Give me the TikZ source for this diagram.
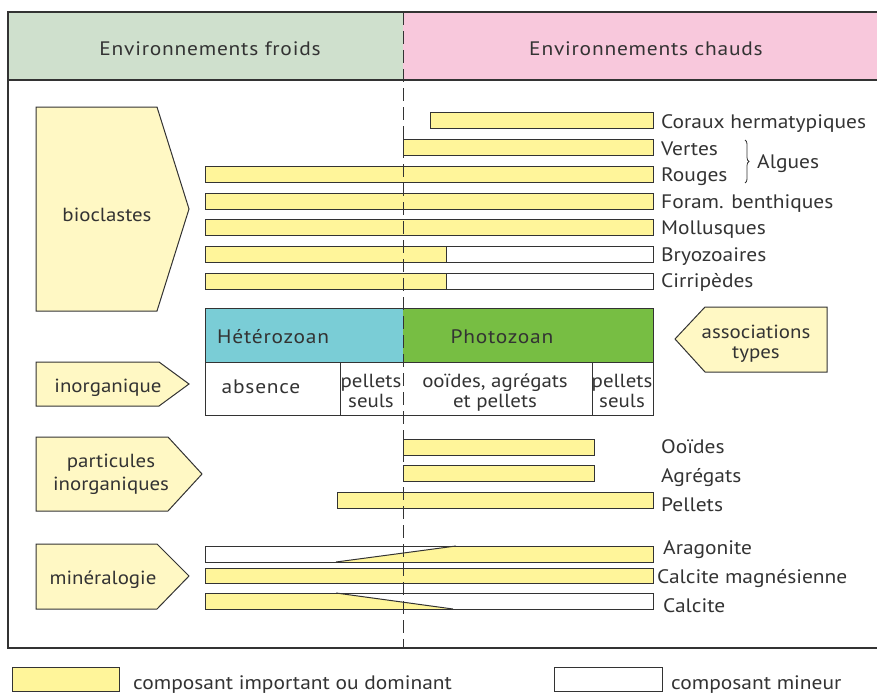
\documentclass[tikz,border=0pt]{standalone}
\usepackage{fontspec}
\setmainfont{PT Sans}[FakeStretch=1.1]
\newfontfamily\trackfont{PT Sans}[FakeStretch=1.1,LetterSpace=4]
\usetikzlibrary{decorations.pathreplacing}
\definecolor{hdrcold}{HTML}{CFE0CD}
\definecolor{hdrwarm}{HTML}{F8C8DC}
\definecolor{yfill}{HTML}{FFF59A}
\definecolor{ybox}{HTML}{FFF8C4}
\definecolor{hetero}{HTML}{7ACDD6}
\definecolor{photo}{HTML}{77BE43}
\definecolor{ink}{HTML}{333333}
\begin{document}
\begin{tikzpicture}[x=1pt,y=-1pt,line join=miter,
  frameline/.style={draw=ink,line width=1.4pt},
  bar/.style={draw=ink,line width=1pt,fill=yfill},
  minbar/.style={draw=ink,line width=1pt,fill=white},
  catbox/.style={draw=ink,line width=1pt,fill=ybox},
  txt/.style={font=\fontsize{19.5}{21}\selectfont,text=ink,inner sep=0pt,anchor=base},
  cattxt/.style={font=\fontsize{19}{23}\selectfont,text=ink,inner sep=0pt,anchor=base},
  trk/.style={font=\trackfont\fontsize{19.5}{20}\selectfont,text=ink,inner sep=0pt,anchor=base},
  lbl/.style={txt,anchor=base west},
  cell/.style={txt,font=\fontsize{19}{20}\selectfont}]
\useasboundingbox (0,0) rectangle (877,693);
% header and frame
\fill[hdrcold] (8,12) rectangle (403,80);
\fill[hdrwarm] (403,12) rectangle (880,80);
\draw[frameline] (880,12) -- (8,12) -- (8,648) -- (880,648);
\draw[frameline] (8,80) -- (880,80);
\node[trk] (froid) at (210,56) {Environnements froids};
\node[trk] (chaud) at (646,56) {Environnements chauds};
% category arrows
\draw[catbox] (36,107) -- (157,107) -- (189,209) -- (157,311) -- (36,311) -- cycle;
\node[cattxt] (bio) at (107,221) {bioclastes};
\draw[catbox] (36,362) -- (159,362) -- (189,384) -- (159,406) -- (36,406) -- cycle;
\node[cattxt] (inorg) at (108,392) {inorganique};
\draw[catbox] (36,437) -- (168,437) -- (202,474) -- (168,511) -- (36,511) -- cycle;
\node[cattxt] (part1) at (111,467) {particules};
\node[cattxt] (part2) at (111,490) {inorganiques};
\draw[catbox] (36,544) -- (157,544) -- (189,576) -- (157,609) -- (36,609) -- cycle;
\node[cattxt] (mine) at (103,584) {minéralogie};
\draw[catbox] (827,307) -- (705,307) -- (675,339) -- (705,372) -- (827,372) -- cycle;
\node[cattxt] (assoc1) at (756,338) {associations};
\node[cattxt] (assoc2) at (756,358) {types};
% bioclast bars
\draw[bar] (430,112) rectangle (653,128);
\node[lbl] (cor) at (661,128) {Coraux hermatypiques};
\draw[bar] (403,139) rectangle (653,155);
\node[lbl] (ver) at (661,155) {Vertes};
\draw[bar] (205,166) rectangle (653,182);
\node[lbl] (rou) at (661,181) {Rouges};
\draw[decorate,decoration={brace,amplitude=4pt},draw=ink,line width=0.8pt] (745,140) -- (745,183);
\node[lbl] (alg) at (757,168) {Algues};
\draw[bar] (205,193) rectangle (653,209);
\node[lbl] (for) at (661,208) {Foram. benthiques};
\draw[bar] (205,219) rectangle (653,235);
\node[lbl] (mol) at (661,234) {Mollusques};
\draw[minbar] (205,246) rectangle (653,262);
\draw[bar] (205,246) rectangle (446,262);
\node[lbl] (bry) at (661,261) {Bryozoaires};
\draw[minbar] (205,273) rectangle (653,289);
\draw[bar] (205,273) rectangle (446,289);
\node[lbl] (cir) at (661,287) {Cirripèdes};
% table
\fill[hetero] (205,308) rectangle (403,362);
\fill[photo] (403,308) rectangle (653,362);
\fill[white] (205,362) rectangle (653,415);
\draw[ink,line width=1pt] (205,308) rectangle (653,415);
\draw[ink,line width=1pt] (205,362) -- (653,362);
\draw[ink,line width=1pt] (340,362) -- (340,415);
\draw[ink,line width=1pt] (592,362) -- (592,415);
\node[trk,anchor=base west] (het) at (217,343) {Hétérozoan};
\node[trk] (pho) at (502,343) {Photozoan};
\node[trk] (abs) at (261,393) {absence};
\node[cell] (pel1a) at (371,387) {pellets};
\node[cell] (pel1b) at (371,407) {seuls};
\node[cell] (ooia) at (495,387) {ooïdes, agrégats};
\node[cell] (ooib) at (495,407) {et pellets};
\node[cell] (pel2a) at (622,387) {pellets};
\node[cell] (pel2b) at (622,407) {seuls};
% inorganic particle bars
\draw[bar] (403,439) rectangle (594,455);
\node[lbl] (ooid) at (661,453) {Ooïdes};
\draw[bar] (403,465) rectangle (594,481);
\node[lbl] (agr) at (661,482) {Agrégats};
\draw[bar] (337,492) rectangle (653,508);
\node[lbl] (pell) at (661,511) {Pellets};
% mineralogy bars
\fill[white] (205,546) rectangle (653,562);
\fill[yfill] (336,562) -- (456,546) -- (653,546) -- (653,562) -- cycle;
\draw[ink,line width=1pt] (205,546) rectangle (653,562);
\draw[ink,line width=1pt] (336,562) -- (456,546);
\node[lbl] (ara) at (663,554) {Aragonite};
\draw[bar] (205,568) rectangle (653,583);
\node[lbl] (cmg) at (657,583) {Calcite magnésienne};
\fill[white] (205,593) rectangle (653,609);
\fill[yfill] (205,593) -- (336,593) -- (453,609) -- (205,609) -- cycle;
\draw[ink,line width=1pt] (205,593) rectangle (653,609);
\draw[ink,line width=1pt] (336,593) -- (453,609);
\node[lbl] (calc) at (663,612) {Calcite};
% dashed divider
\draw[ink,line width=1pt,dash pattern=on 13pt off 6pt] (403,12) -- (403,648);
% legend
\draw[bar] (12,667) rectangle (119,691);
\node[lbl] (lg1) at (133,689) {composant important ou dominant};
\draw[minbar] (554,667) rectangle (662,691);
\node[lbl] (lg2) at (671,689) {composant mineur};
\end{tikzpicture}
\end{document}
